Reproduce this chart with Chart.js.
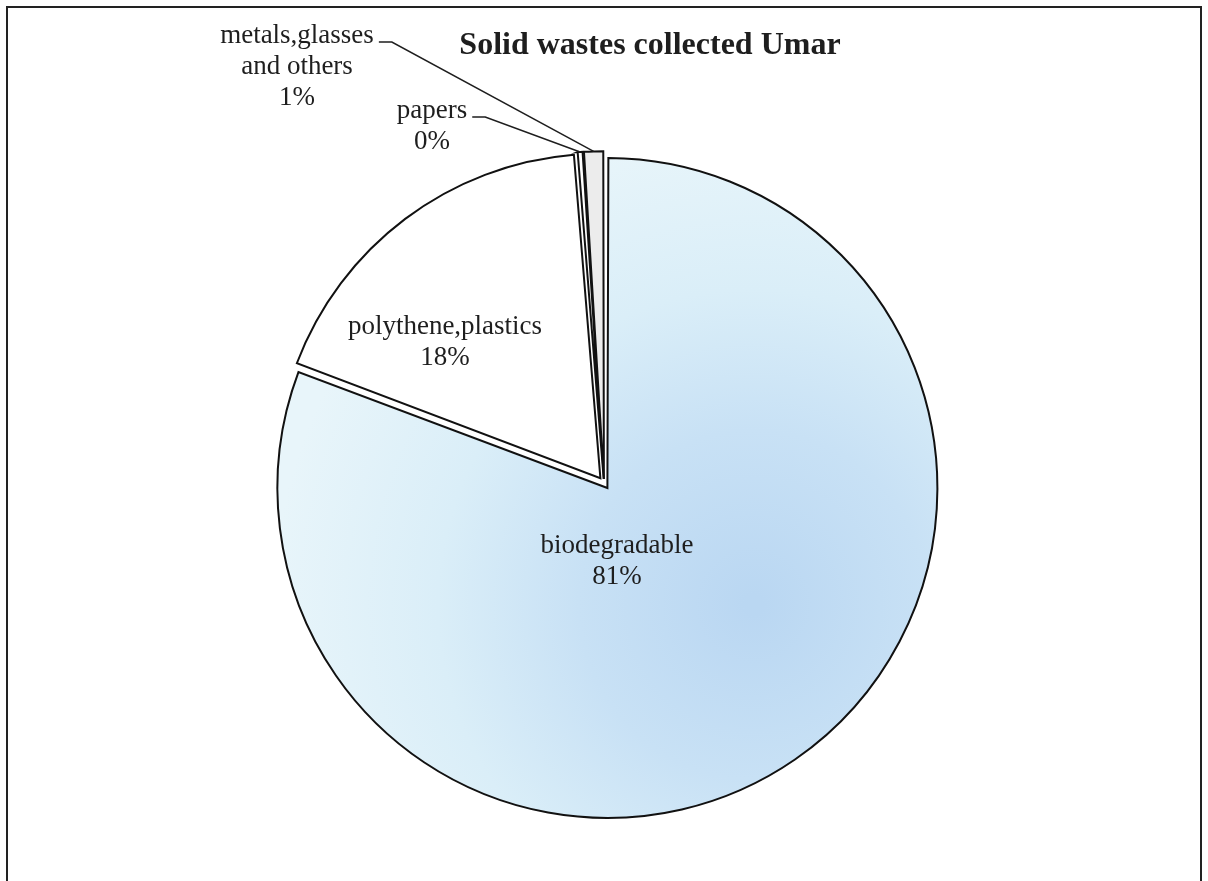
<!DOCTYPE html>
<html>
<head>
<meta charset="utf-8">
<script src="https://cdn.jsdelivr.net/npm/chart.js@4/dist/chart.umd.min.js"></script>
<style>
  html, body { margin: 0; padding: 0; background: #fff; overflow: hidden; }
  #wrap { position: relative; width: 1208px; height: 881px; }
  #frame { position: absolute; left: 6px; top: 6px; width: 1196px; height: 900px;
           border: 2px solid #222; box-sizing: border-box; }
  #c { position: absolute; left: 0; top: 0; }
</style>
</head>
<body>
<div id="wrap">
  <div id="frame"></div>
  <canvas id="c" width="1208" height="881"></canvas>
</div>
<script>
// Waste categories, in drawing order (clockwise from 12 o'clock)
const categories = ['biodegradable', 'polythene,plastics', 'papers', 'metals,glasses and others'];
// Share of collected solid waste (%)
const wasteShares = [81, 18, 0.3, 1];
// How each category label is broken into lines
const labelLines = [['biodegradable'], ['polythene,plastics'], ['papers'], ['metals,glasses', 'and others']];
const chartTitle = 'Solid wastes collected Umar';

// Label anchors relative to the pie centre: [centre x offset, first baseline offset, has leader line]
const labelAnchors = [
  [13, 70, false],
  [-159, -149, false],
  [-172, -365, true],
  [-307, -440, true]
];

const FONT = '"Liberation Serif", "Times New Roman", serif';
const TEXT = '#1e1e1e';

function bioFill(ctx) {
  const chart = ctx.chart;
  const g = chart.ctx.createRadialGradient(750, 600, 10, 750, 600, 480);
  g.addColorStop(0, '#bad7f2');
  g.addColorStop(0.35, '#c8e1f5');
  g.addColorStop(0.65, '#daeef8');
  g.addColorStop(1, '#e8f5fa');
  return g;
}

function arcTip(arc) {
  const p = arc.getProps(['x', 'y', 'startAngle', 'endAngle', 'outerRadius', 'circumference'], true);
  const off = (arc.options.offset || 0) / 4;
  const mid = (p.startAngle + p.endAngle) / 2;
  const fix = 1 - Math.sin(Math.min(Math.PI, p.circumference || 0));
  const r = p.outerRadius + off * fix;
  return { x: p.x + Math.cos(mid) * (off + r), y: p.y + Math.sin(mid) * (off + r) };
}

const pieLabels = {
  id: 'pieLabels',
  afterDatasetsDraw(chart) {
    const ctx = chart.ctx;
    const meta = chart.getDatasetMeta(0);
    const values = chart.data.datasets[0].data;
    const total = values.reduce((a, b) => a + b, 0);
    ctx.save();
    ctx.fillStyle = TEXT;
    ctx.strokeStyle = '#1e1e1e';
    ctx.lineWidth = 1.5;

    // title
    ctx.font = 'bold 32px ' + FONT;
    ctx.textAlign = 'center';
    ctx.textBaseline = 'alphabetic';
    ctx.fillText(chartTitle, 650, 54);

    ctx.font = '27px ' + FONT;
    meta.data.forEach((arc, i) => {
      const c = arc.getProps(['x', 'y'], true);
      const [dx, dy, leader] = labelAnchors[i];
      const lx = c.x + dx;
      const by = c.y + dy;
      const lines = labelLines[i].concat([Math.round(values[i] / total * 100) + '%']);
      lines.forEach((t, k) => ctx.fillText(t, lx, by + k * 31));
      if (leader) {
        const w = ctx.measureText(lines[0]).width;
        const sx = lx + w / 2 + 5;
        const sy = by - 1;
        const tip = arcTip(arc);
        ctx.beginPath();
        ctx.moveTo(sx, sy);
        ctx.lineTo(sx + 13, sy);
        ctx.lineTo(tip.x, tip.y);
        ctx.stroke();
      }
    });
    ctx.restore();
  }
};

new Chart(document.getElementById('c'), {
  type: 'pie',
  data: {
    labels: categories,
    datasets: [{
      data: wasteShares,
      backgroundColor: (ctx) => [bioFill(ctx), '#ffffff', '#ffffff', '#ececec'][ctx.dataIndex],
      borderColor: '#111111',
      borderWidth: 2,
      borderJoinStyle: 'miter',
      offset: [24, 24, 16, 16],
      hoverOffset: 0,
      radius: 324
    }]
  },
  options: {
    responsive: false,
    animation: false,
    events: [],
    layout: { padding: { top: 100, bottom: 15, left: 0, right: 0 } },
    plugins: {
      legend: { display: false },
      tooltip: { enabled: false },
      title: { display: false }
    }
  },
  plugins: [pieLabels]
});
</script>
</body>
</html>
